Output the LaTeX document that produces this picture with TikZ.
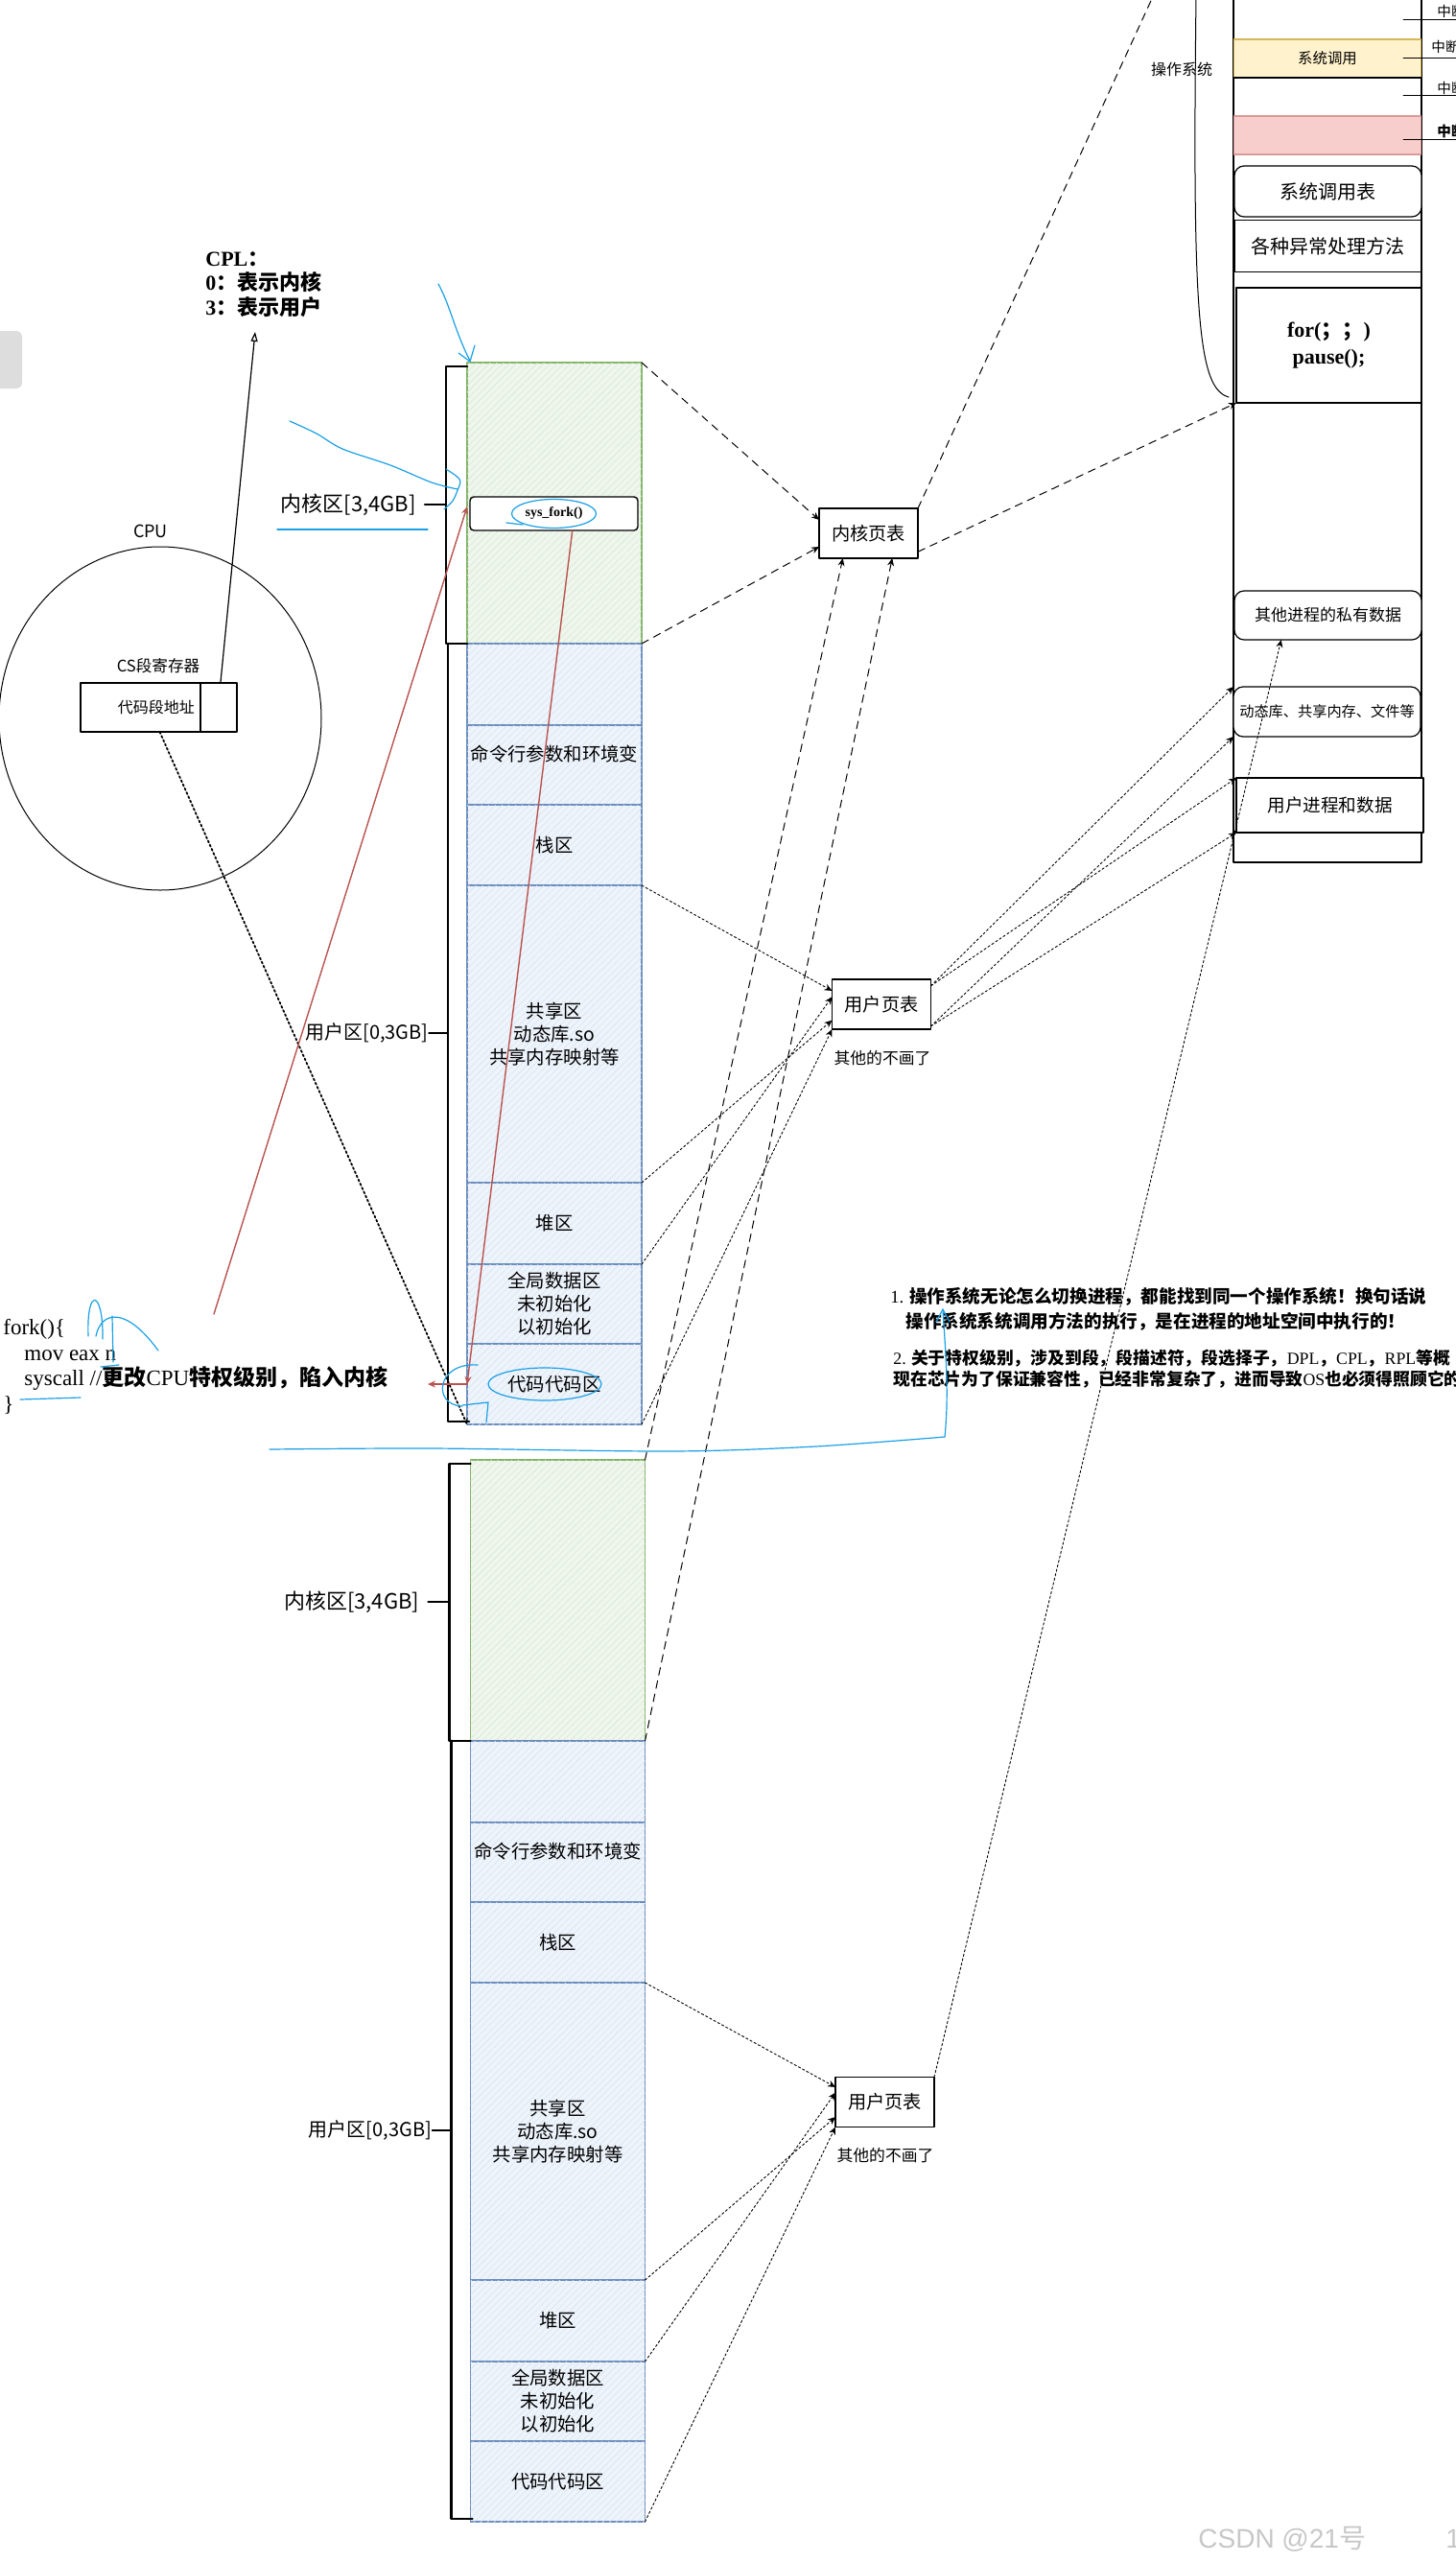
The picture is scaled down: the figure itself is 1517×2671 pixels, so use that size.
\documentclass[tikz,border=0pt]{standalone}
\usepackage{fontspec}
\setmainfont{Liberation Serif}
\setsansfont{Liberation Sans}
\newfontfamily\cjk{Noto Sans CJK SC}
\usetikzlibrary{calc,arrows.meta,patterns.meta,shapes.geometric}
\definecolor{kgreen}{HTML}{82B366}
\definecolor{kgreenfill}{HTML}{EFF6ED}
\definecolor{ublue}{HTML}{6C8EBF}
\definecolor{ubluefill}{HTML}{EEF4FC}
\definecolor{penblue}{HTML}{1AA0E4}
\definecolor{redline}{HTML}{B85450}
\definecolor{sysyellow}{HTML}{FFF2CC}
\definecolor{sysyellowline}{HTML}{D6B656}
\definecolor{errpink}{HTML}{F8CECC}
\definecolor{errline}{HTML}{D99A98}
\definecolor{markgray}{HTML}{DDDDDD}
\tikzset{
    kseg/.style={
        draw=kgreen, line width=0.7pt, fill=kgreenfill,
        postaction={pattern={Lines[angle=45,distance=2.5pt,line width=0.3pt]}, pattern color=kgreen!30},
        minimum width=91pt, inner sep=0pt, outer sep=0pt
    },
    useg/.style={
        draw=ublue, line width=0.7pt, fill=ubluefill,
        postaction={pattern={Lines[angle=45,distance=2.5pt,line width=0.3pt]}, pattern color=ublue!25},
        minimum width=91pt, inner sep=0pt, outer sep=0pt, align=center,
        font=\cjk\fontsize{9.7}{12}\selectfont
    },
    brace/.style={line width=1.3pt},
    ptbox/.style={
        draw, line width=0.7pt, fill=white, inner sep=0pt, outer sep=0pt,
        minimum width=51.5pt, minimum height=26pt, font=\cjk\fontsize{9.6}{11}\selectfont
    },
    osbox/.style={
        draw, line width=0.6pt, fill=white, inner sep=0pt, outer sep=0pt,
        minimum width=97.5pt, align=center
    },
    klink/.style={line width=0.5pt, dash pattern=on 4pt off 3pt, -{Stealth[length=4pt,width=3.5pt]}},
    ulink/.style={line width=0.45pt, dash pattern=on 1.2pt off 1.2pt, -{Stealth[length=4pt,width=3.5pt]}},
    cpulink/.style={line width=0.9pt, dash pattern=on 1pt off 1.3pt, -{Stealth[length=3pt,width=3pt]}},
    redarrow/.style={draw=redline, line width=0.7pt, -{Stealth[length=4pt,width=3.5pt]}},
    pen/.style={draw=penblue, line width=0.6pt},
    zh/.style={font=\cjk\fontsize{#1}{#1}\selectfont}
}

\begin{document}
\begin{tikzpicture}[x=0.5pt, y=-0.5pt, line cap=round, line join=round]

\useasboundingbox (0,0) rectangle (1517,2671);

% the two address spaces
\foreach \proc/\dx/\dy in {a/0/0, b/3.5/1144} {
  \node[kseg, minimum height=146.5pt] (\proc-kern) at ({578+\dx},{524.5+\dy}) {};
  \foreach \nm/\ya/\yb/\txt in {blank/671/756/{}, cmd/756/839/{命令行参数和环境变\\\phantom{量}},
      stack/839/923/{栈区}, shared/923/1233/{共享区\\动态库.so\\共享内存映射等},
      heap/1233/1318/{堆区}, data/1318/1401/{全局数据区\\未初始化\\以初始化}, code/1401/1485/{代码代码区}}
    \node[useg, minimum height={(\yb-\ya)*0.5pt}] (\proc-\nm) at ({578+\dx},{(\ya+\yb)/2+\dy}) {\txt};
  \draw[brace] ({487+\dx},{382+\dy}) -- ({465+\dx},{382+\dy}) -- ({465+\dx},{671+\dy}) -- ({487+\dx},{671+\dy});
  \draw[brace] ({467+\dx},{671+\dy}) -- ({467+\dx},{1482+\dy}) -- ({489+\dx},{1482+\dy});
  \draw[brace] ({443+\dx},{526+\dy}) -- ({465+\dx},{526+\dy});
  \draw[line width=0.7pt] ({447+\dx},{1077+\dy}) -- ({467+\dx},{1077+\dy});
  \node[zh=11, anchor=east, inner sep=0pt] (\proc-klab) at ({434+\dx},{526+\dy}) {内核区[3,4GB]};
  \node[zh=10, anchor=east, inner sep=0pt] (\proc-ulab) at ({447+\dx},{1077+\dy}) {用户区[0,3GB]};
}

\node[draw, line width=0.7pt, fill=white, rounded corners=2pt, minimum width=87.5pt, minimum height=17.5pt,
      inner sep=0pt, outer sep=0pt, font=\bfseries\fontsize{7}{8}\selectfont] (sysfork) at (577.5,535.5) {sys\_fork()};

% page tables
\node[ptbox] (kpt) at (905.5,556) {内核页表};
\node[ptbox] (upta) at (919,1047) {用户页表};
\node[ptbox] (uptb) at (922.5,2191.5) {用户页表};
\node[zh=8.4] (moreA) at (920,1103) {其他的不画了};
\node[zh=8.4] (moreB) at (923,2247) {其他的不画了};

% physical memory
\draw[line width=0.7pt] (1286,-5) rectangle (1482,899);
\foreach \i/\ya/\yb/\clr/\edge in {1/-2/41/white/black, 2/41/81/sysyellow/sysyellowline,
    3/81/121/white/black, 4/121/161/errpink/errline}
  \node[osbox, fill=\clr, draw=\edge, minimum height={(\yb-\ya)*0.5pt}] (idt\i) at (1384,{(\ya+\yb)/2}) {};
\node[zh=7.7] at (idt2) {系统调用};
\foreach \i/\yy in {1/21, 2/61, 3/100, 4/146}
  \draw[line width=0.5pt] (1463,\yy) -- (1530,\yy);
\node[zh=7.3, anchor=west, inner sep=0pt] (int1) at (1498,12) {中断};
\node[zh=7.3, anchor=west, inner sep=0pt] (int2) at (1492,49) {中断};
\node[zh=7.3, anchor=west, inner sep=0pt] (int3) at (1498,92) {中断};
\node[font=\cjk\bfseries\fontsize{7.3}{7.3}\selectfont, anchor=west, inner sep=0pt] (int4) at (1498,137) {中断};

\node[osbox, rounded corners=5pt, minimum height=26.5pt, font=\cjk\fontsize{10}{11}\selectfont] (sct) at (1384.5,199.5) {系统调用表};
\node[osbox, minimum height=27pt, font=\cjk\fontsize{10}{11}\selectfont] (exc) at (1384.5,256.5) {各种异常处理方法};
\node[osbox, minimum width=96.5pt, minimum height=60pt, font=\bfseries\fontsize{11}{14}\selectfont] (idle) at (1385.5,360)
  {for({\cjk ；；})\\pause();};
\node[osbox, rounded corners=5pt, minimum height=25.5pt, font=\cjk\fontsize{8.5}{10}\selectfont] (priv) at (1384.5,641.5) {其他进程的私有数据};
\node[osbox, rounded corners=5pt, minimum height=26pt, font=\cjk\fontsize{7.6}{9}\selectfont] (shm) at (1383.5,742) {动态库、共享内存、文件等};
\node[osbox, minimum height=28.5pt, font=\cjk\fontsize{9.3}{10}\selectfont] (uproc) at (1386.5,839.5) {用户进程和数据};

\draw[line width=0.5pt] (1247,-5) .. controls (1243,330) and (1249,405) .. (1281,414);
\node[zh=8] (oslab) at (1232,72) {操作系统};

% kernel page table links
\coordinate (ostop) at (1204,-8);
\draw[klink] (a-kern.north east) -- ($(kpt.north west)!0.23!(kpt.south west)$);
\draw[klink] (a-kern.south east) -- ($(kpt.north west)!0.77!(kpt.south west)$);
\draw[klink] (b-kern.north east) -- ($(kpt.south west)!0.24!(kpt.south east)$);
\draw[klink] (b-kern.south east) -- ($(kpt.south west)!0.74!(kpt.south east)$);
\draw[klink] ($(kpt.north east)!0.87!(kpt.south east)$) -- (idle.south west);
\draw[klink, -] (kpt.north east) -- (ostop);

% user page table links
\draw[ulink] (a-stack.south east) -- ($(upta.north west)!0.23!(upta.south west)$);
\draw[ulink] (a-shared.south east) -- ($(upta.north west)!0.82!(upta.south west)$);
\draw[ulink] (a-heap.south east) -- ($(upta.north west)!0.35!(upta.south west)$);
\draw[ulink] (a-code.south east) -- (upta.south west);
\draw[ulink] (b-stack.south east) -- ($(uptb.north west)!0.2!(uptb.south west)$);
\draw[ulink] (b-shared.south east) -- ($(uptb.north west)!0.8!(uptb.south west)$);
\draw[ulink] (b-heap.south east) -- ($(uptb.north west)!0.31!(uptb.south west)$);
\draw[ulink] (b-code.south east) -- (uptb.south west);
\draw[ulink] ($(upta.north east)!0.13!(upta.south east)$) -- (shm.north west);
\draw[ulink] ($(upta.north east)!0.13!(upta.south east)$) -- (uproc.north west);
\draw[ulink] ($(upta.north east)!0.94!(upta.south east)$) -- (shm.south west);
\draw[ulink] ($(upta.north east)!0.94!(upta.south east)$) -- (uproc.south west);
\draw[ulink] (uptb.north east) -- ($(priv.south west)!0.25!(priv.south east)$);

% cpu
\fill[markgray, rounded corners=3pt] (-10,345) rectangle (23,405);
\node[draw, ellipse, line width=0.5pt, minimum width=168pt, minimum height=179pt, inner sep=0pt] (cpu) at (167,749) {};
\node[zh=9] (cpulab) at (157,554) {CPU};
\node[zh=8.3] (cslab) at (165,694) {CS段寄存器};
\node[draw, line width=0.7pt, fill=white, minimum height=25.5pt, text width=56.5pt, align=right, inner sep=3pt,
      outer sep=0pt, zh=8] (csreg) at (146.5,737.5) {代码段地址};
\node[draw, line width=0.7pt, fill=white, minimum height=25.5pt, minimum width=19pt, inner sep=0pt,
      outer sep=0pt, anchor=west] (csflag) at (csreg.east) {};
\node[anchor=north west, align=left, inner sep=0pt, font=\cjk\bfseries\fontsize{11}{12.8}\selectfont] (cplnote) at (214,262)
  {{\rmfamily CPL}：\\{\rmfamily 0}：表示内核\\{\rmfamily 3}：表示用户};
\coordinate (cpltip) at (266,346);
\draw[line width=0.6pt, -{Triangle[open,length=5pt,width=3.5pt]}] ($(csflag.north west)!0.55!(csflag.north east)$) -- (cpltip);
\draw[cpulink] ($(csreg.south west)!0.66!(csreg.south east)$) -- (a-code.south west);

% fork
\node[anchor=north west, align=left, inner sep=0pt, font=\fontsize{11.5}{13.3}\selectfont] (forkcode) at (3,1375)
  {fork()\{\\\hspace*{11pt}mov eax n\\\hspace*{11pt}syscall //{\cjk\bfseries 更改}CPU{\cjk\bfseries 特权级别，陷入内核}\\\}};
\coordinate (redtail) at (223,1370);
\coordinate (trap) at (446,1443);
\draw[redarrow] (redtail) -- ([xshift=-1.5pt]$(sysfork.north west)!0.29!(sysfork.south west)$);
\draw[redarrow] ($(sysfork.south west)!0.61!(sysfork.south east)$) -- (a-code.west);
\draw[redarrow] (a-code.west) -- (trap);

% notes
\node[anchor=base west, inner sep=0pt, font=\cjk\bfseries\fontsize{9.3}{11}\selectfont] (note1a) at (928,1358)
  {{\rmfamily\mdseries 1.} 操作系统无论怎么切换进程，都能找到同一个操作系统！换句话说};
\node[anchor=base west, inner sep=0pt, font=\cjk\bfseries\fontsize{9.3}{11}\selectfont] (note1b) at (944,1384)
  {操作系统系统调用方法的执行，是在进程的地址空间中执行的！};
\node[anchor=base west, inner sep=0pt, font=\cjk\bfseries\fontsize{8.9}{11}\selectfont] (note2a) at (931,1422)
  {{\rmfamily\mdseries 2.} 关于特权级别，涉及到段，段描述符，段选择子，{\rmfamily\mdseries DPL}，{\rmfamily\mdseries CPL}，{\rmfamily\mdseries RPL}等概};
\node[anchor=base west, inner sep=0pt, font=\cjk\bfseries\fontsize{8.9}{11}\selectfont] (note2b) at (931,1444)
  {现在芯片为了保证兼容性，已经非常复杂了，进而导致{\rmfamily\mdseries OS}也必须得照顾它的};

% blue pen marks
\draw[pen] (457,296) .. controls (470,320) and (474,345) .. (490,376);
\draw[pen] (478,368) -- (490,377) -- (495,360);
\draw[pen] plot[smooth] coordinates {(302,439) (330,452) (357,468) (407,485) (450,503) (477,510)};
\draw[pen] (465,489) .. controls (482,500) .. (477,511) .. controls (473,522) .. (463,531);
\draw[pen] (289,552) -- (446,552);
\draw[pen] (sysfork.center) ellipse [x radius=44, y radius=15];
\draw[pen] (528,545) -- (545,547);
\draw[pen] (92,1393) .. controls (90,1340) and (108,1345) .. (107,1396);
\draw[pen] (100,1393) .. controls (105,1368) and (130,1360) .. (165,1408);
\draw[pen] (117,1372) -- (118,1420);
\draw[pen] (105,1425) -- (124,1423);
\draw[pen] (21,1459) -- (84,1457);
\draw[pen] (498,1423) .. controls (455,1420) and (450,1465) .. (482,1466);
\draw[pen] (482,1465) -- (509,1462) -- (507,1483);
\draw[pen] (a-code.center) ++(-10,0) ellipse [x radius=59, y radius=17];
\draw[pen] plot[smooth] coordinates {(281,1511) (450,1510) (700,1513) (850,1508) (985,1498)};
\draw[pen] (985,1498) .. controls (990,1450) and (985,1400) .. (983,1365);
\draw[pen] (976,1378) -- (983,1365) -- (990,1378);

% watermark
\node[anchor=base west, inner sep=0pt, text=black!22, font=\sffamily\fontsize{14}{14}\selectfont] (wmark) at (1249,2656) {CSDN @21{\cjk 号}};
\node[anchor=base west, inner sep=0pt, text=black!22, font=\sffamily\fontsize{14}{14}\selectfont] (wpage) at (1507,2656) {1};

\end{tikzpicture}
\end{document}
